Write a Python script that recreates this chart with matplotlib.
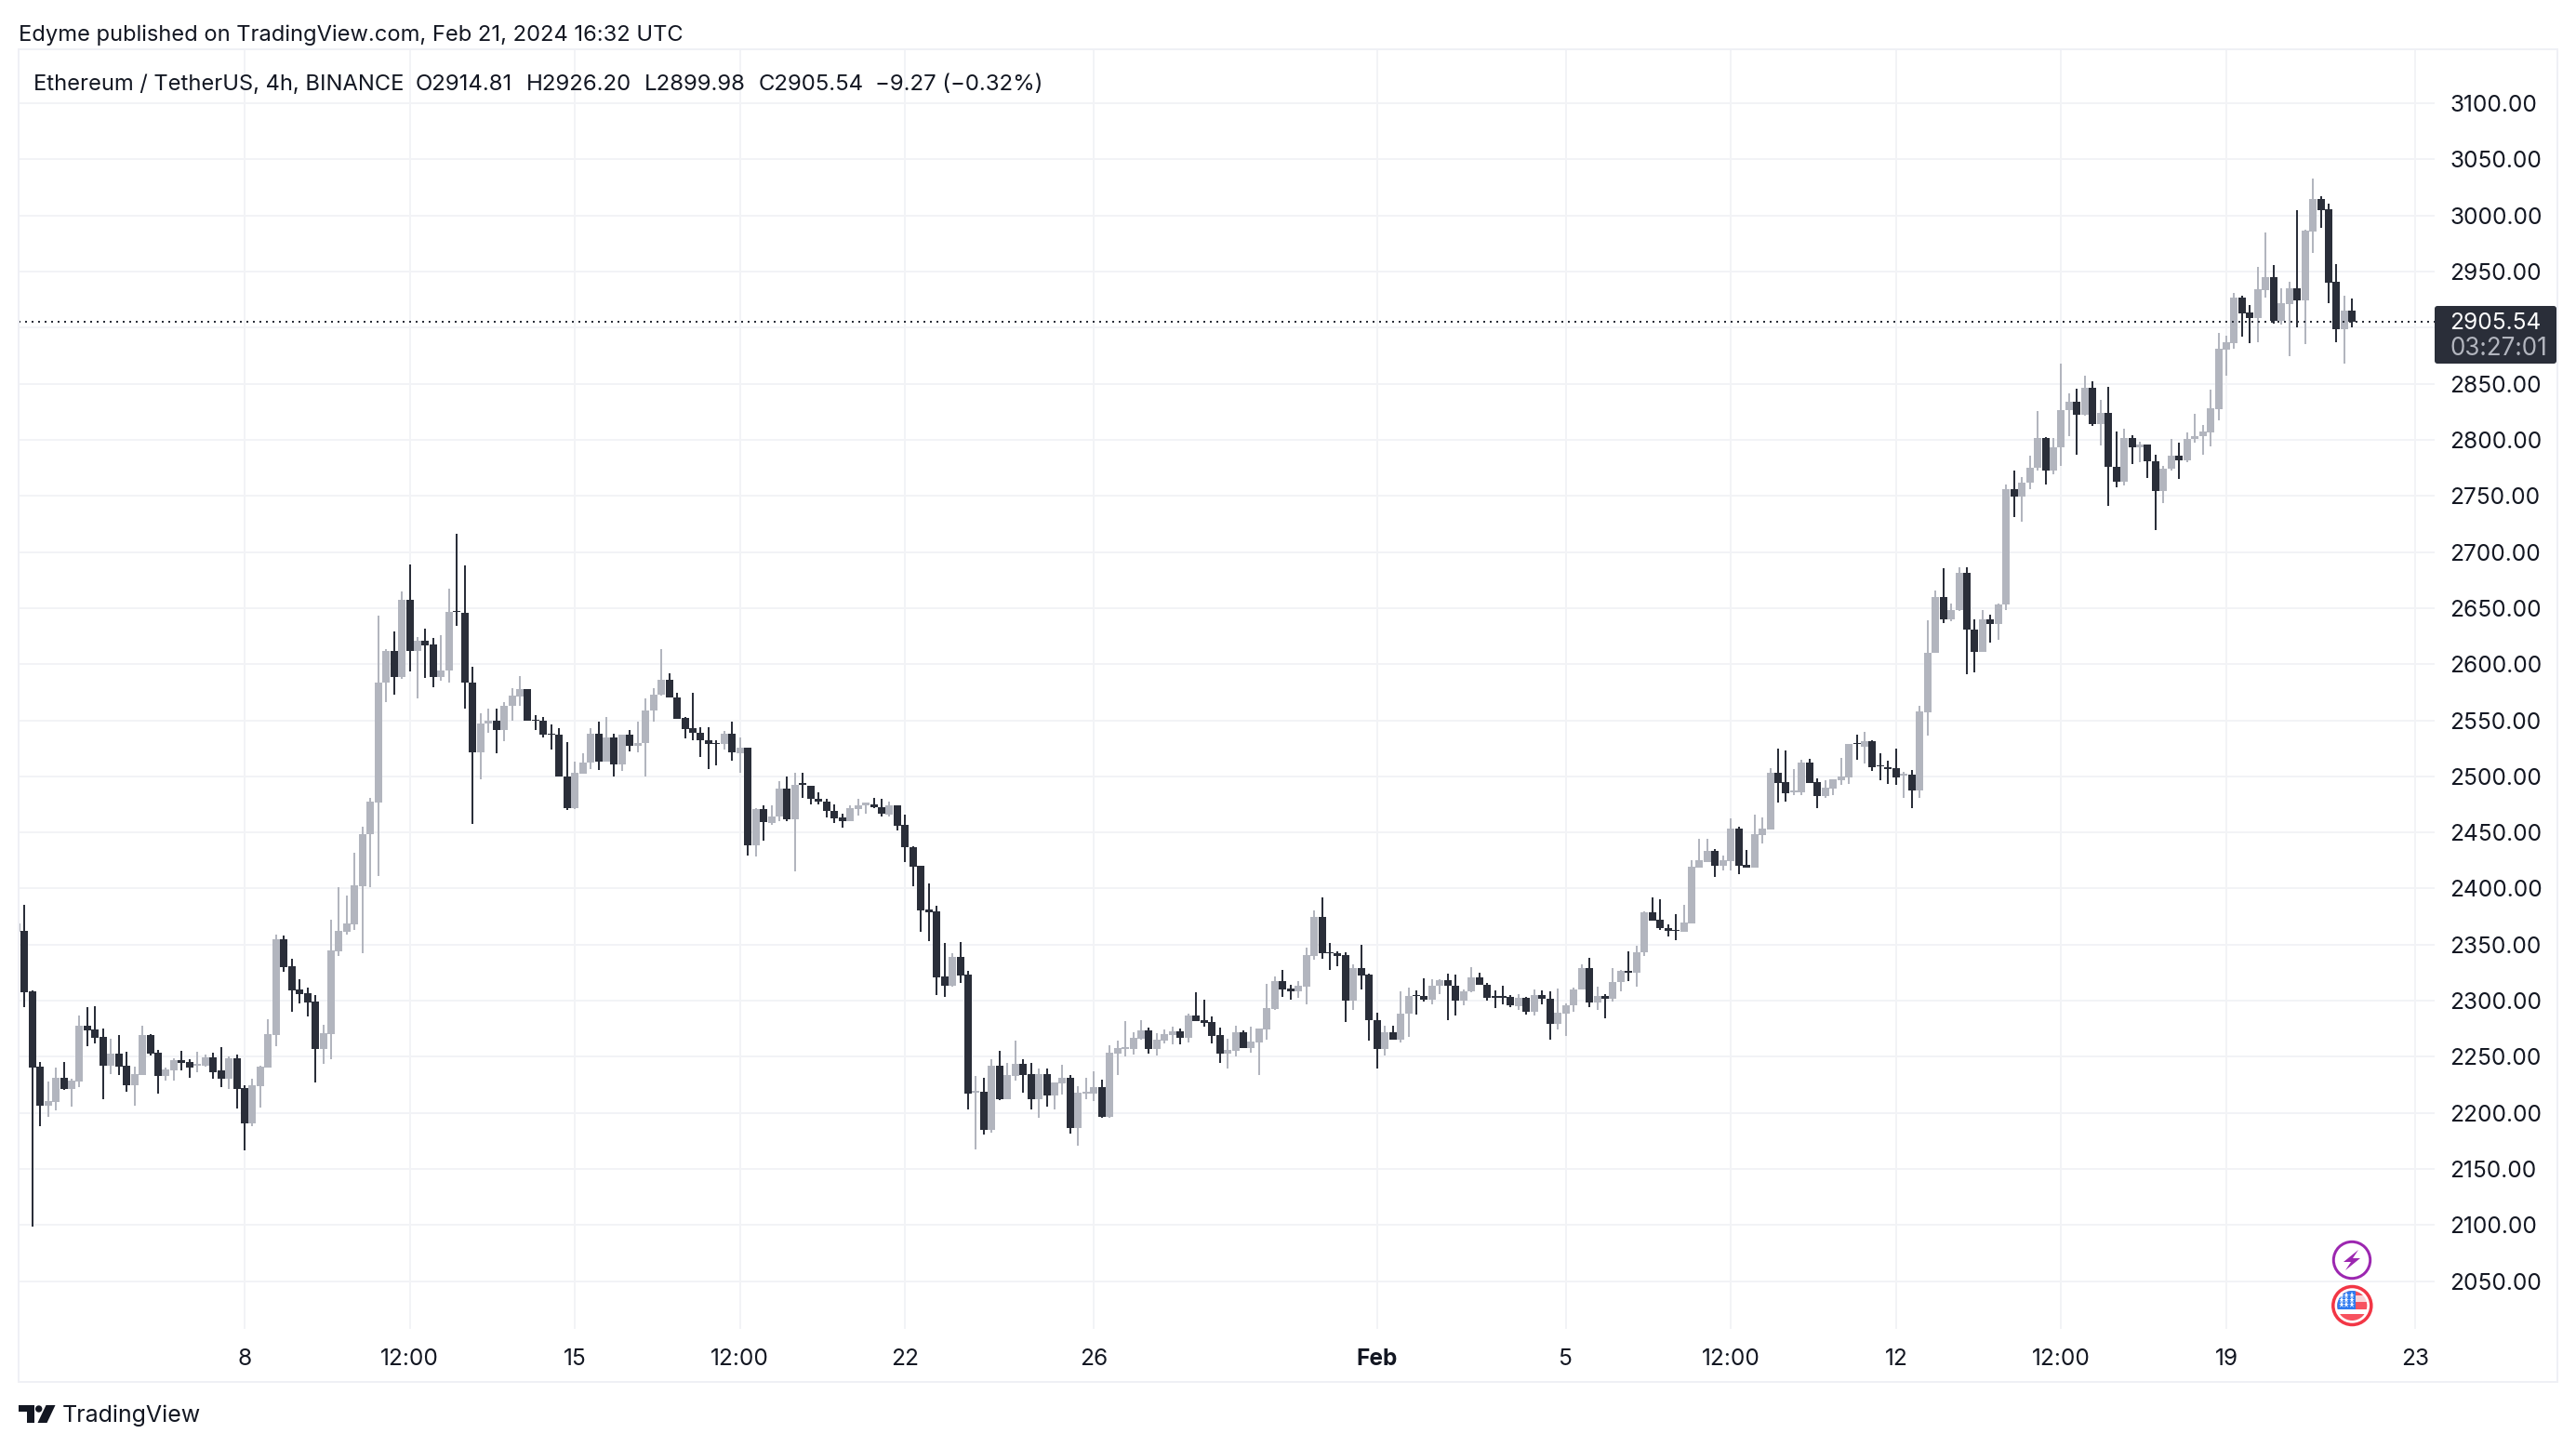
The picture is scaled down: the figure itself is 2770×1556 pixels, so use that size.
import numpy as np
import matplotlib
matplotlib.use("Agg")
import matplotlib.pyplot as plt
from matplotlib.patches import Circle, Polygon, Rectangle, FancyBboxPatch

# 4h candles, the first one is cut by the left edge of the pane
opens = [
    2361.4, 2362.0, 2308.1, 2240.9, 2206.4, 2209.7, 2231.0, 2221.3, 2227.9, 2277.4,
    2274.1, 2267.5, 2242.0, 2252.5, 2241.8, 2224.6, 2233.7, 2269.1, 2253.4, 2232.9,
    2237.9, 2246.7, 2245.1, 2242.0, 2241.8, 2249.2, 2237.6, 2230.4, 2248.4, 2221.9,
    2190.6, 2223.8, 2240.4, 2269.4, 2354.5, 2330.5, 2309.7, 2306.4, 2299.0, 2257.0,
    2270.2, 2344.0, 2361.4, 2368.0, 2402.0, 2448.1, 2476.5, 2583.4, 2612.2, 2588.4,
    2657.8, 2612.2, 2621.3, 2617.2, 2588.4, 2594.2, 2647.8, 2646.2, 2584.0, 2521.3,
    2547.0, 2550.0, 2541.2, 2562.7, 2571.0, 2577.4, 2550.8, 2550.0, 2538.4, 2536.8,
    2500.3, 2471.5, 2502.2, 2512.2, 2538.4, 2513.0, 2534.3, 2510.5, 2536.8, 2527.1,
    2529.6, 2558.6, 2572.7, 2586.5, 2570.7, 2551.7, 2542.6, 2539.2, 2532.6, 2530.1,
    2528.5, 2538.4, 2521.0, 2525.2, 2438.4, 2470.5, 2458.8, 2464.1, 2488.7, 2461.6,
    2493.7, 2491.2, 2480.4, 2477.9, 2469.6, 2463.0, 2460.0, 2470.7, 2474.6, 2475.4,
    2472.9, 2466.3, 2473.8, 2456.4, 2437.3, 2420.2, 2381.3, 2379.6, 2321.6, 2313.3,
    2339.0, 2323.3, 2218.3, 2218.8, 2185.1, 2242.0, 2212.5, 2233.2, 2243.7, 2234.6,
    2212.5, 2234.6, 2215.8, 2226.6, 2231.3, 2186.8, 2217.4, 2217.4, 2223.0, 2196.7,
    2253.1, 2257.2, 2257.2, 2266.3, 2273.5, 2257.2, 2264.7, 2269.7, 2272.7, 2267.2,
    2286.8, 2282.6, 2281.0, 2269.4, 2253.1, 2255.6, 2271.9, 2258.1, 2263.0, 2274.6,
    2292.9, 2317.5, 2310.8, 2308.6, 2312.8, 2340.3, 2374.9, 2343.4, 2342.5, 2340.9,
    2299.7, 2329.3, 2323.5, 2282.9, 2256.6, 2272.1, 2265.7, 2288.1, 2305.2, 2304.4,
    2301.1, 2313.0, 2318.5, 2313.5, 2300.5, 2308.0, 2321.0, 2314.4, 2304.4, 2304.4,
    2303.6, 2295.3, 2302.8, 2289.8, 2305.2, 2301.9, 2279.0, 2288.9, 2295.6, 2309.7,
    2329.3, 2298.1, 2304.4, 2301.4, 2316.3, 2326.8, 2324.6, 2342.8, 2379.0, 2372.4,
    2364.9, 2363.3, 2361.1, 2369.3, 2418.8, 2423.8, 2433.7, 2420.5, 2424.6, 2453.6,
    2421.3, 2418.8, 2447.8, 2452.8, 2503.3, 2495.1, 2485.9, 2485.9, 2512.5, 2495.1,
    2482.6, 2489.3, 2496.7, 2499.2, 2529.9, 2526.6, 2531.5, 2510.0, 2508.3, 2507.5,
    2501.1, 2501.7, 2487.6, 2557.2, 2609.9, 2660.2, 2639.8, 2648.1, 2681.8, 2631.2,
    2610.8, 2640.3, 2636.2, 2653.0, 2756.4, 2749.2, 2761.6, 2774.9, 2802.0, 2772.4,
    2793.1, 2826.3, 2834.3, 2822.1, 2846.7, 2814.4, 2824.4, 2776.3, 2762.5, 2802.0,
    2793.1, 2796.2, 2781.2, 2754.2, 2774.1, 2786.2, 2781.5, 2800.6, 2803.1, 2806.9,
    2827.6, 2880.3, 2886.1, 2926.8, 2913.5, 2908.8, 2933.4, 2945.0, 2905.8, 2921.2,
    2935.1, 2924.3, 2985.9, 3014.6, 3005.5, 2940.9, 2898.9, 2914.81,
]
highs = [
    2368.6, 2385.7, 2308.9, 2245.6, 2227.7, 2240.1, 2245.1, 2230.7, 2286.5, 2294.0,
    2294.8, 2274.9, 2265.8, 2269.1, 2254.2, 2240.9, 2277.4, 2269.9, 2255.9, 2240.1,
    2248.4, 2255.0, 2247.6, 2254.2, 2251.7, 2253.4, 2258.3, 2250.0, 2251.7, 2224.4,
    2230.2, 2241.8, 2283.2, 2358.6, 2357.8, 2337.1, 2318.8, 2311.4, 2304.8, 2278.2,
    2371.9, 2400.9, 2393.4, 2431.6, 2455.5, 2481.2, 2642.9, 2613.8, 2629.6, 2665.2,
    2689.3, 2624.6, 2632.1, 2623.8, 2626.3, 2667.7, 2716.6, 2688.4, 2597.3, 2556.6,
    2560.8, 2560.0, 2565.8, 2579.0, 2589.8, 2578.2, 2555.0, 2553.3, 2545.9, 2543.4,
    2530.9, 2513.5, 2520.2, 2542.6, 2548.4, 2553.3, 2538.4, 2537.6, 2541.7, 2549.2,
    2569.9, 2579.0, 2613.8, 2592.3, 2574.9, 2553.3, 2574.1, 2544.2, 2544.2, 2532.6,
    2540.1, 2549.2, 2534.3, 2525.2, 2472.1, 2473.8, 2474.6, 2496.1, 2499.5, 2503.6,
    2503.6, 2491.2, 2485.4, 2479.6, 2475.4, 2467.1, 2474.6, 2480.4, 2476.3, 2481.2,
    2480.4, 2477.9, 2474.6, 2465.5, 2438.1, 2420.2, 2404.5, 2384.6, 2351.4, 2342.3,
    2352.3, 2326.6, 2232.9, 2231.3, 2247.8, 2255.3, 2244.5, 2264.4, 2247.8, 2244.5,
    2239.5, 2239.5, 2227.1, 2242.9, 2233.7, 2223.8, 2231.3, 2237.1, 2229.6, 2260.3,
    2264.4, 2281.8, 2271.9, 2282.6, 2276.0, 2271.0, 2274.4, 2276.8, 2275.2, 2288.5,
    2307.5, 2300.9, 2286.0, 2276.0, 2266.1, 2277.7, 2273.5, 2276.8, 2275.2, 2315.0,
    2321.6, 2327.4, 2314.1, 2317.5, 2347.3, 2380.7, 2392.3, 2351.7, 2344.2, 2343.4,
    2332.6, 2350.0, 2324.3, 2289.5, 2277.9, 2277.9, 2308.6, 2311.9, 2309.4, 2320.2,
    2319.3, 2319.3, 2324.3, 2323.5, 2310.2, 2330.1, 2325.1, 2316.0, 2309.4, 2313.5,
    2305.2, 2306.1, 2303.6, 2310.2, 2309.4, 2308.6, 2311.0, 2297.8, 2311.9, 2332.6,
    2338.4, 2312.7, 2306.1, 2329.3, 2327.6, 2344.2, 2349.2, 2379.8, 2392.3, 2390.6,
    2368.2, 2377.4, 2385.6, 2425.4, 2444.5, 2444.5, 2435.4, 2429.6, 2462.7, 2455.3,
    2434.5, 2466.0, 2463.6, 2507.5, 2524.9, 2523.2, 2506.7, 2515.0, 2515.8, 2498.4,
    2496.7, 2497.5, 2516.6, 2529.0, 2537.3, 2539.8, 2532.4, 2520.8, 2514.1, 2524.9,
    2504.2, 2505.8, 2563.0, 2639.5, 2666.0, 2685.9, 2654.4, 2686.8, 2686.8, 2640.3,
    2648.6, 2644.5, 2654.4, 2760.5, 2773.0, 2767.2, 2786.2, 2826.0, 2802.8, 2802.0,
    2868.3, 2841.8, 2845.9, 2857.5, 2852.5, 2836.0, 2847.6, 2807.8, 2810.3, 2804.5,
    2798.7, 2796.2, 2787.0, 2777.1, 2801.1, 2797.8, 2806.9, 2823.5, 2813.6, 2844.7,
    2895.3, 2892.8, 2930.9, 2928.1, 2920.1, 2954.1, 2984.8, 2955.8, 2935.1, 2940.9,
    3004.7, 2987.3, 3032.9, 3017.1, 3010.5, 2956.6, 2928.4, 2926.20,
]
lows = [
    2361.4, 2294.3, 2099.0, 2188.2, 2196.4, 2202.2, 2220.5, 2205.6, 2223.0, 2259.4,
    2261.9, 2212.2, 2234.6, 2233.7, 2218.8, 2206.4, 2233.7, 2251.2, 2217.2, 2228.8,
    2228.8, 2237.9, 2231.3, 2236.2, 2241.2, 2230.4, 2223.0, 2221.3, 2203.9, 2166.6,
    2188.2, 2204.7, 2240.4, 2259.4, 2325.8, 2290.1, 2297.6, 2286.0, 2227.1, 2243.7,
    2247.8, 2339.8, 2358.9, 2363.1, 2342.3, 2401.2, 2411.1, 2566.0, 2572.7, 2586.8,
    2593.4, 2569.4, 2587.6, 2579.3, 2585.1, 2583.4, 2634.0, 2560.2, 2457.5, 2497.2,
    2538.7, 2520.5, 2531.2, 2549.5, 2562.7, 2549.5, 2541.2, 2534.5, 2523.8, 2499.7,
    2469.9, 2470.7, 2502.2, 2506.4, 2505.5, 2513.0, 2499.7, 2504.7, 2522.1, 2521.3,
    2499.7, 2548.6, 2571.8, 2570.2, 2551.1, 2533.7, 2532.1, 2517.1, 2506.4, 2509.7,
    2524.3, 2513.8, 2503.1, 2429.3, 2428.5, 2442.5, 2456.6, 2460.0, 2460.0, 2415.5,
    2480.7, 2474.9, 2474.9, 2463.3, 2458.3, 2454.2, 2460.0, 2464.9, 2466.6, 2471.6,
    2464.1, 2464.1, 2451.7, 2423.5, 2401.9, 2361.7, 2353.4, 2305.3, 2303.6, 2312.8,
    2316.1, 2203.4, 2167.7, 2181.0, 2182.6, 2211.6, 2212.5, 2229.0, 2218.3, 2203.4,
    2195.9, 2205.8, 2203.4, 2216.6, 2181.8, 2171.0, 2212.5, 2210.8, 2195.9, 2195.9,
    2234.0, 2250.6, 2252.3, 2265.5, 2253.1, 2251.4, 2262.2, 2261.4, 2261.4, 2263.0,
    2282.1, 2277.1, 2262.2, 2244.8, 2239.8, 2250.6, 2258.1, 2253.9, 2234.0, 2265.5,
    2292.0, 2303.6, 2301.2, 2302.8, 2297.0, 2336.2, 2337.0, 2327.1, 2330.4, 2280.7,
    2291.4, 2309.7, 2264.1, 2240.0, 2251.6, 2264.9, 2263.2, 2267.4, 2287.3, 2298.9,
    2297.2, 2305.5, 2282.3, 2286.5, 2295.6, 2307.2, 2313.8, 2300.5, 2293.1, 2297.2,
    2293.9, 2291.4, 2287.3, 2286.5, 2297.2, 2265.7, 2274.0, 2269.0, 2289.8, 2309.7,
    2294.7, 2291.4, 2284.0, 2298.9, 2308.0, 2317.1, 2312.2, 2340.3, 2371.8, 2363.5,
    2356.9, 2354.4, 2361.1, 2369.3, 2418.8, 2423.8, 2410.5, 2416.3, 2416.3, 2413.0,
    2418.8, 2418.8, 2440.4, 2452.8, 2476.8, 2477.7, 2483.5, 2483.5, 2494.2, 2471.8,
    2481.0, 2483.5, 2492.6, 2493.4, 2515.0, 2511.6, 2505.0, 2496.7, 2493.4, 2492.6,
    2481.0, 2471.8, 2481.0, 2536.5, 2609.9, 2636.5, 2638.1, 2647.2, 2590.9, 2592.5,
    2610.8, 2619.1, 2621.5, 2648.1, 2731.0, 2726.8, 2755.8, 2772.4, 2760.0, 2769.1,
    2776.6, 2803.1, 2786.5, 2821.3, 2812.2, 2794.8, 2740.9, 2757.5, 2759.1, 2778.2,
    2779.9, 2765.8, 2719.4, 2743.4, 2772.4, 2764.9, 2779.9, 2797.3, 2786.5, 2794.4,
    2817.6, 2857.4, 2881.5, 2892.2, 2886.4, 2887.3, 2926.8, 2903.8, 2902.7, 2874.8,
    2900.5, 2885.6, 2966.8, 2989.2, 2922.1, 2887.3, 2868.2, 2899.98,
]
closes = [
    2368.6, 2307.5, 2240.4, 2206.4, 2210.3, 2231.0, 2221.3, 2228.5, 2277.4, 2273.5,
    2266.9, 2242.0, 2252.5, 2241.2, 2224.6, 2234.3, 2269.1, 2252.5, 2232.9, 2238.4,
    2246.7, 2244.2, 2240.4, 2243.4, 2249.2, 2236.2, 2230.4, 2248.4, 2221.3, 2190.6,
    2224.4, 2240.9, 2269.9, 2354.5, 2329.9, 2309.2, 2305.9, 2298.4, 2257.0, 2270.8,
    2344.5, 2362.0, 2368.6, 2402.6, 2448.9, 2477.1, 2584.0, 2612.2, 2588.4, 2657.8,
    2612.2, 2621.3, 2616.6, 2588.4, 2594.8, 2647.0, 2646.4, 2583.4, 2521.3, 2547.5,
    2550.0, 2541.2, 2563.3, 2571.6, 2577.4, 2549.5, 2549.5, 2537.0, 2537.0, 2499.7,
    2471.5, 2502.8, 2512.7, 2538.4, 2513.0, 2534.3, 2510.5, 2536.8, 2527.1, 2530.1,
    2559.1, 2573.2, 2586.5, 2570.2, 2551.1, 2542.0, 2538.7, 2532.1, 2528.5, 2528.5,
    2538.4, 2521.3, 2525.2, 2438.4, 2470.5, 2459.1, 2464.6, 2488.7, 2461.6, 2492.8,
    2492.3, 2479.8, 2477.4, 2469.1, 2462.4, 2460.0, 2471.3, 2474.6, 2476.3, 2472.4,
    2466.6, 2473.8, 2455.8, 2436.7, 2419.3, 2380.7, 2379.1, 2321.1, 2313.6, 2339.0,
    2322.7, 2217.4, 2219.7, 2185.1, 2242.0, 2212.5, 2233.7, 2243.7, 2234.0, 2212.5,
    2234.6, 2215.8, 2227.1, 2231.3, 2186.8, 2218.0, 2218.8, 2223.0, 2196.7, 2253.6,
    2257.8, 2258.6, 2266.9, 2273.5, 2257.2, 2265.2, 2270.2, 2272.7, 2267.2, 2286.8,
    2282.1, 2280.4, 2268.8, 2253.1, 2256.1, 2271.9, 2258.1, 2263.6, 2275.2, 2293.4,
    2317.5, 2310.3, 2308.6, 2313.3, 2340.7, 2374.9, 2342.0, 2342.0, 2340.3, 2299.7,
    2329.3, 2322.9, 2282.3, 2256.6, 2272.1, 2265.7, 2288.7, 2304.4, 2303.9, 2301.1,
    2313.5, 2318.5, 2313.0, 2300.5, 2308.6, 2321.0, 2313.8, 2303.0, 2303.0, 2303.0,
    2295.6, 2302.8, 2289.8, 2305.2, 2301.4, 2279.0, 2289.5, 2296.1, 2310.2, 2329.3,
    2298.1, 2304.4, 2301.4, 2316.8, 2326.8, 2324.6, 2343.4, 2379.0, 2371.8, 2364.4,
    2361.9, 2361.9, 2369.9, 2419.6, 2425.4, 2433.7, 2420.5, 2425.4, 2453.6, 2420.5,
    2418.8, 2448.6, 2453.6, 2503.3, 2494.2, 2485.1, 2487.6, 2512.5, 2494.2, 2482.6,
    2490.1, 2497.5, 2500.0, 2529.0, 2528.5, 2531.5, 2508.3, 2508.6, 2506.7, 2499.2,
    2502.5, 2487.6, 2558.1, 2610.5, 2660.2, 2639.8, 2648.6, 2681.8, 2630.7, 2610.8,
    2640.3, 2636.2, 2653.6, 2756.4, 2749.2, 2762.2, 2775.4, 2802.0, 2772.4, 2793.7,
    2826.8, 2834.3, 2822.1, 2846.7, 2814.4, 2824.4, 2775.7, 2762.5, 2802.0, 2793.1,
    2796.2, 2780.7, 2754.2, 2774.6, 2786.2, 2781.5, 2801.1, 2803.6, 2807.8, 2827.8,
    2881.2, 2887.0, 2926.8, 2912.9, 2908.8, 2934.2, 2945.0, 2906.3, 2921.8, 2935.1,
    2924.3, 2986.4, 3014.6, 3005.0, 2940.0, 2898.9, 2915.2, 2905.54,
]

# x axis: bars counted from Jan 8 00:00
first_bar = -29
time_ticks = [0, 21, 42, 63, 84, 108, 144, 168, 189, 210, 231, 252, 276]
time_labels = ["8", "12:00", "15", "12:00", "22", "26", "Feb", "5", "12:00", "12", "12:00", "19", "23"]

price_ticks = list(range(2050, 3150, 50))
hidden_price_label = 2900
last_price = 2905.54

title = "Edyme published on TradingView.com, Feb 21, 2024 16:32 UTC"
symbol = "Ethereum / TetherUS, 4h, BINANCE"
ohlc_labels = ["O2914.81", "H2926.20", "L2899.98", "C2905.54", "\u22129.27 (\u22120.32%)"]
countdown = "03:27:01"

W, H = 2770, 1556
DARK = "#2a2e39"
LIGHT = "#b2b5be"
TEXT = "#131722"
GRID = "#f2f3f6"
BORDER = "#eff0f5"
px = 72 / 100  # 1 pixel in points

plt.rcParams["font.family"] = ["Inter", "DejaVu Sans"]

fig = plt.figure(figsize=(W / 100, H / 100), dpi=100, facecolor="white")

# pane: x 20-2618, y 53-1429 in pixels
left, right, top, bottom = 20, 2618, 53, 1429
ax = fig.add_axes([left / W, 1 - bottom / H, (right - left) / W, (bottom - top) / H])
bar_step = 8.4565
ax.set_xlim((left - 263) / bar_step, (right - 263) / bar_step)
ax.set_ylim(2050 - (bottom - 1377.7) / 1.2063, 2050 + (1377.7 - top) / 1.2063)

for s in ax.spines.values():
    s.set_visible(False)

ax.set_axisbelow(True)
ax.grid(True, color=GRID, linewidth=2 * px)
ax.set_xticks(time_ticks)
ax.set_xticklabels(time_labels, fontsize=24.5 * px, color=TEXT)
ax.get_xticklabels()[time_labels.index("Feb")].set_fontweight("bold")
ax.yaxis.tick_right()
ax.set_yticks(price_ticks)
ax.set_yticklabels(["" if p == hidden_price_label else f"{p:.2f}" for p in price_ticks],
                   fontsize=24.5 * px, color=TEXT)
ax.tick_params(axis="x", length=0, pad=21 * px)
ax.tick_params(axis="y", length=0, pad=16 * px)

# candles
bars = np.arange(len(opens)) + first_bar
o = np.array(opens)
h = np.array(highs)
l = np.array(lows)
c = np.array(closes)
colors = [LIGHT if cc >= oo else DARK for oo, cc in zip(o, c)]
ax.vlines(bars, l, h, colors=colors, linewidth=2 * px, capstyle="butt", zorder=3)
ax.bar(bars, np.abs(c - o), bottom=np.minimum(o, c), width=8 / bar_step, color=colors,
       linewidth=0, zorder=4)

# last price line
ax.axhline(last_price, color=DARK, linewidth=2 * px, linestyle=(0, (1, 2.5)), zorder=5)

# everything around the chart, in pixel coordinates
over = fig.add_axes([0, 0, 1, 1], facecolor="none")
over.set_xlim(0, W)
over.set_ylim(H, 0)
over.axis("off")

over.add_patch(Rectangle((20, 53), 2750 - 20, 1486 - 53, fill=False, edgecolor=BORDER, linewidth=2 * px))

over.text(20, 37.5, title, fontsize=23.7 * px, color=TEXT, va="center")
over.text(36, 91, symbol, fontsize=23.7 * px, color=TEXT, va="center")
for x, s in zip([447, 566, 693, 816, 941], ohlc_labels):
    over.text(x, 91, s, fontsize=24 * px, color=TEXT, va="center")

# price label
over.add_patch(FancyBboxPatch((2618, 329), 2749 - 2618, 62, boxstyle="round,pad=0,rounding_size=3",
                              facecolor=DARK, edgecolor="none"))
over.text(2634, 347.5, f"{last_price:.2f}", fontsize=24.5 * px, color="white", va="center")
over.text(2634, 375, countdown, fontsize=26 * px, color=LIGHT, va="center")

# TradingView logo
over.add_patch(Polygon([(20, 1511), (36.7, 1511), (36.7, 1530), (28.5, 1530), (28.5, 1517.5), (20, 1517.5)],
                       facecolor=TEXT, edgecolor="none"))
over.add_patch(Circle((41.7, 1515), 3.7, facecolor=TEXT, edgecolor="none"))
over.add_patch(Polygon([(49.5, 1511), (59.5, 1511), (50.5, 1530), (40.5, 1530)], facecolor=TEXT, edgecolor="none"))
over.text(67, 1522, "TradingView", fontsize=25 * px, color=TEXT, va="center")

# event markers at the bottom right
over.add_patch(Circle((2529, 1355), 19.7, facecolor="white", edgecolor="#9c27b0", linewidth=3 * px))
over.add_patch(Polygon([(2536, 1344), (2520, 1357), (2528, 1357), (2522, 1366), (2538, 1353), (2530, 1353)],
                       facecolor="#9c27b0", edgecolor="none"))

over.add_patch(Circle((2529.3, 1404), 20.5, facecolor="white", edgecolor="#f23645", linewidth=3.5 * px))
clip = Circle((2529.3, 1404), 16, transform=over.transData)
for y0, y1, col in [(1388, 1393, "#f7525f"), (1393, 1400, "#f9d5d8"), (1400, 1408, "#f7525f"),
                    (1408, 1413, "white"), (1413, 1421, "#f7525f")]:
    r = Rectangle((2512, y0), 36, y1 - y0, facecolor=col, edgecolor="none")
    over.add_patch(r)
    r.set_clip_path(clip)
r = Rectangle((2512, 1388), 21, 20, facecolor="#2f7bf0", edgecolor="none")
over.add_patch(r)
r.set_clip_path(clip)
for sy in [1393, 1398, 1403]:
    for sx in [2517.5, 2523.3, 2528.7]:
        over.plot(sx, sy, marker="*", markersize=5.5 * px * 1.3, color="white", markeredgewidth=0)

fig.savefig("out.png", dpi=100, facecolor="white")
